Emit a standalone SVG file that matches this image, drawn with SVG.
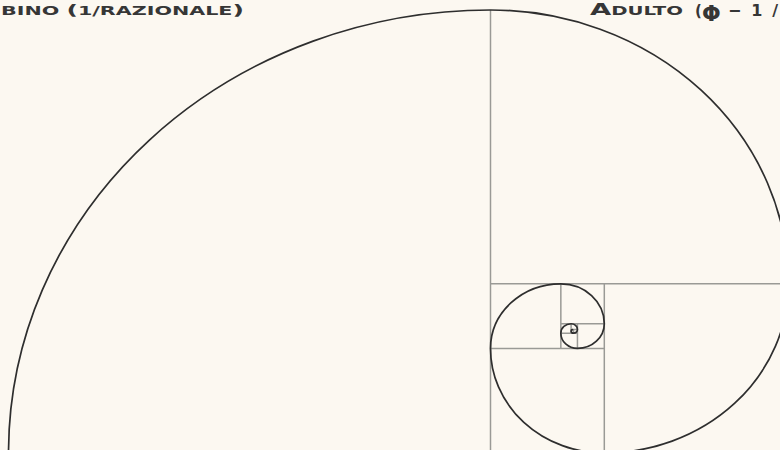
<svg xmlns="http://www.w3.org/2000/svg" width="780" height="450" viewBox="0 0 780 450">
  <style>
    .grid { fill: none; stroke: #9a9a96; stroke-width: 1.5; vector-effect: non-scaling-stroke; }
    .spiral { fill: none; stroke: #2e2e2e; stroke-width: 1.7; vector-effect: non-scaling-stroke; stroke-linecap: round; }
    .lbl { font-family: "DejaVu Sans", "Liberation Sans", sans-serif; font-weight: bold; fill: #363636; }
  </style>
  <rect width="780" height="450" fill="#fcf8f1"/>
  <g id="golden" transform="translate(490.5,0) scale(1.088,1)">
    <g id="grid">
      <path class="grid" d="M0 10 V453
        M0 283.8 H273.8
        M104.6 283.8 V453
        M0 348.4 H104.6
        M64.65 283.8 V348.4
        M64.65 323.75 H104.6
        M79.91 323.75 V348.4
        M64.65 333.14 H79.91
        M74.08 323.75 V333.14
        M74.08 329.58 H79.91
        M76.31 329.58 V333.14"/>
    </g>
    <g id="spiral">
      <path class="spiral" d="M-443 453 A443 443 0 0 1 0 10
        A273.8 273.8 0 0 1 273.8 283.8
        A169.2 169.2 0 0 1 104.6 453
        A104.6 104.6 0 0 1 0 348.4
        A64.65 64.65 0 0 1 64.65 283.8
        A39.95 39.95 0 0 1 104.6 323.75
        A24.69 24.69 0 0 1 79.91 348.4
        A15.26 15.26 0 0 1 64.65 333.14
        A9.43 9.43 0 0 1 74.08 323.75
        A5.83 5.83 0 0 1 79.91 329.58
        A3.6 3.6 0 0 1 76.31 333.14
        A2.23 2.23 0 0 1 74.08 330.91
        A1.33 1.33 0 0 1 75.41 329.58"/>
    </g>
  </g>
  <g id="label-left">
    <text class="lbl" x="1" y="15" font-size="11.5" textLength="243" lengthAdjust="spacingAndGlyphs">BINO <tspan font-size="14">(</tspan>1/RAZIONALE<tspan font-size="14">)</tspan></text>
  </g>
  <g id="label-right">
    <text class="lbl" x="590" y="15" font-size="11.5" textLength="93" lengthAdjust="spacingAndGlyphs"><tspan font-size="16">A</tspan>DULTO</text>
    <text class="lbl" x="695" y="16" font-size="15">(</text>
    <text class="lbl" x="702" y="20.5" font-size="22" font-family="Liberation Serif, serif">Φ</text>
    <text class="lbl" x="728" y="16" font-size="16" textLength="50" lengthAdjust="spacing">−1/</text>
  </g>
</svg>
